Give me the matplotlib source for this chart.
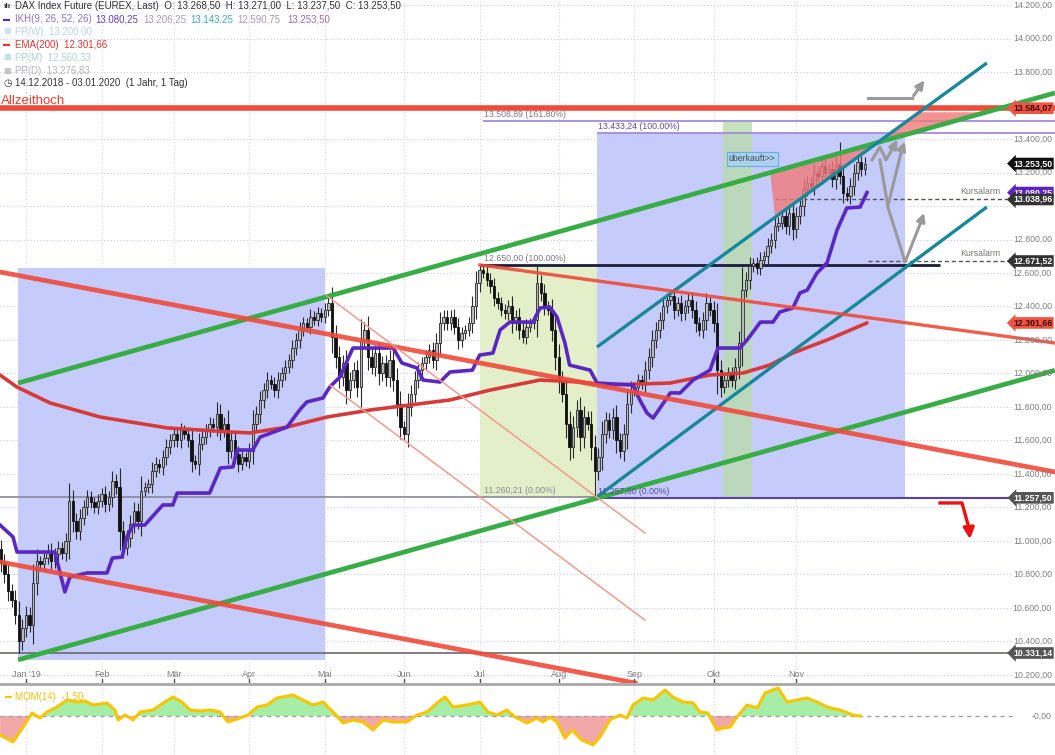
import matplotlib
matplotlib.use("Agg")
import matplotlib.pyplot as plt
import numpy as np
from matplotlib.patches import Rectangle, Polygon
from matplotlib.lines import Line2D

plt.rcParams['font.family'] = ['Liberation Sans', 'DejaVu Sans']

W, H = 1055, 755

# daily closes, trading day index -7 (mid Dec 2018) .. 233 (end Nov 2019)
first_day = -7
first_open = 10950
closes = [
    10870, 10800, 10700, 10650, 10560, 10400, 10480,
    10560, 10500, 10750, 10880, 10860, 10900, 10940, 10880, 10920, 10960,
    10930, 11000, 11240, 11120, 11060, 11140, 11200, 11260, 11230, 11200,
    11240, 11280, 11220, 11260, 11360, 11320, 11060, 10960, 11020, 11100,
    11180, 11120, 11300, 11320, 11340, 11420, 11460, 11440, 11500, 11560,
    11600, 11640, 11600, 11660, 11640, 11600, 11480, 11460, 11580, 11620,
    11660, 11700, 11680, 11760, 11660, 11700, 11540, 11600, 11520, 11460,
    11500, 11480, 11540, 11700, 11760, 11840, 11900, 11960, 11940, 11900,
    11960, 12000, 12040, 12080, 12150, 12200, 12260, 12300, 12280, 12340,
    12320, 12360, 12340, 12380, 12420, 12220, 12100, 11980, 12060, 11900,
    11960, 12020, 11920, 12200, 12260, 12100, 12040, 12120, 12000, 12060,
    11980, 12080, 11960, 11820, 11680, 11640, 11800, 11880, 11960, 12020,
    12060, 12100, 12140, 12080, 12180, 12300, 12340, 12300, 12340, 12280,
    12200, 12240, 12260, 12300, 12400, 12540, 12620, 12600, 12560, 12520,
    12450, 12420, 12380, 12360, 12400, 12300, 12340, 12260, 12220, 12280,
    12300, 12320, 12540, 12480, 12400, 12380, 12260, 12100, 11960, 11880,
    11700, 11560, 11680, 11780, 11620, 11740, 11700, 11560, 11420, 11500,
    11640, 11720, 11660, 11740, 11600, 11540, 11640, 11820, 11900, 11920,
    11960, 11940, 12020, 12100, 12200, 12260, 12320, 12400, 12440, 12460,
    12380, 12420, 12360, 12400, 12440, 12380, 12300, 12260, 12320, 12420,
    12380, 12300, 12020, 11920, 11960, 12000, 11960, 12040, 12180, 12500,
    12560, 12640, 12660, 12630, 12680, 12700, 12760, 12800, 12880, 12900,
    12940, 12880, 12960, 12860, 12940, 13000, 13100, 13140, 13120, 13200,
    13180, 13240, 13200, 13220, 13160, 13250, 13180, 13080, 13060, 13120,
    13200, 13260, 13220, 13253.5,
]
extra_lows = {-2: 10331.14, 158: 11257.5, 192: 11880}
extra_highs = {126: 12650.0, 84: 12460.0, 226: 13380.0, 53: 11830}

# Ichimoku line (step line), breakpoints
ikh_x = [-7.2, -3.6, -2.5, 8, 10.8, 12.2, 17, 22.5, 24, 26.7, 28, 29.7, 33, 38, 40.8,
         42, 51, 54, 57.5, 58.6, 63, 65, 72.5, 76, 78, 82.5, 84.4, 87.2, 90.8, 102,
         104.4, 108.6, 110.3, 115, 117.8, 124, 126, 129.7, 131.7, 134.4, 140.8, 142.8,
         145.5, 147.5, 149.7, 151, 156.7, 158.6, 168.6, 170.5, 172.5, 174.2, 179,
         181.7, 185.3, 190, 192.2, 198.3, 200.3, 204, 207.5, 209.4, 213, 215, 217,
         219.7, 222.5, 225.3, 228, 231.7, 233.6]
ikh_y = [11095, 11024, 10934, 10934, 10696, 10785, 10809, 10809, 10898, 10904, 11024,
         11095, 11095, 11215, 11215, 11286, 11286, 11436, 11442, 11543, 11543, 11620,
         11680, 11782, 11830, 11854, 11920, 11979, 12152, 12152, 12063, 12033, 11961,
         11949, 12009, 12020, 12110, 12122, 12260, 12307, 12307, 12391, 12397, 12337,
         12182, 12050, 12020, 11943, 11931, 11842, 11764, 11734, 11884, 11884, 11961,
         12020, 12152, 12152, 12200, 12307, 12307, 12367, 12391, 12481, 12498, 12600,
         12660, 12857, 12988, 12994, 13080.25]

ema_x = [-7.2, -2.5, 6.7, 20.6, 39.2, 56.7, 62.2, 72.5, 83.6, 95.6, 117.8, 128.9,
         142.8, 153.9, 161.4, 178.9, 190, 199.2, 206.7, 213, 222.5, 233.6]
ema_y = [11991, 11919, 11824, 11740, 11675, 11651, 11645, 11680, 11740, 11782, 11842,
         11901, 11961, 11949, 11931, 11943, 11991, 12003, 12051, 12122, 12200, 12301.66]

mom_x = [-7.2, -3.6, -0.8, 1.7, 3.9, 5.8, 8.6, 11.4, 14.2, 16.4, 18.6, 22.5, 24.7, 25.6,
         27.5, 29.7, 31.7, 35.3, 38.1, 40.8, 43.3, 45.6, 48.3, 51.1, 53.9, 56.1, 59.4,
         61.7, 64.2, 66.9, 69.7, 74.2, 76.9, 79.7, 82.5, 85.3, 88.1, 90.8, 93.6, 96.4,
         99.2, 101.9, 105.8, 108.6, 111.4, 114.2, 116.4, 118.6, 122.5, 126.1, 128.3,
         130.8, 133.6, 135.8, 139.2, 141.9, 143.6, 145.6, 147.5, 149.7, 151.7, 154.4,
         157.5, 159.4, 162.2, 165, 166.9, 168.6, 171.4, 174.2, 177.5, 179.7, 182.5,
         185.3, 187.2, 189.4, 191.9, 193.6, 195.6, 197.5, 200.3, 203.1, 205.3, 208.9,
         211.4, 214.2, 216.9, 219.7, 222.5, 226.1, 229.7, 231.7]
mom_y = [-570, -780, -330, 90, -60, 120, 270, 480, 420, 450, 330, 390, 180, -120, 30,
         -120, 120, 180, 390, 570, 420, 180, 150, 180, 120, -180, -60, 30, 270, 330,
         540, 630, 480, 330, 420, 120, -210, -120, -180, -420, -120, -180, -180, 30,
         120, 390, 570, 270, 330, 420, 120, 30, 180, -30, -210, -60, -180, -30, -180,
         -660, -420, -720, -870, -630, -120, 30, -60, 330, 540, 480, 780, 570, 420, 390,
         120, 90, -420, -360, -330, -30, 330, 240, 690, 840, 420, 480, 540, 420, 270,
         180, 30, 0]

month_pos = [0, 21, 41, 62, 83, 105, 126, 148, 169, 191, 214]
month_labels = ["Jan '19", "Feb", "Mär", "Apr", "Mai", "Jun", "Jul", "Aug", "Sep", "Okt", "Nov"]
price_ticks = list(range(10200, 14201, 200))
hidden_ticks = [13600, 13000]  # covered by price tags

tags = [  # price, background, text colour
    (13584.07, '#f2553f', '#3a0000'),
    (13253.50, '#111111', 'white'),
    (13080.25, '#5b22c8', 'white'),
    (13038.96, '#333333', 'white'),
    (12671.52, '#333333', 'white'),
    (12301.66, '#f2553f', '#3a0000'),
    (11257.50, '#555555', 'white'),
    (10331.14, '#555555', 'white'),
]


def de(v):
    return f"{v:,.2f}".replace(",", "_").replace(".", ",").replace("_", ".")


X0, X1 = -7.22, 285.83
Y0, Y1 = 10152, 14230
XR = 273.9  # where the price scale starts

fig = plt.figure(figsize=(W / 100, H / 100), dpi=100)
ax = fig.add_axes([0, 72 / H, 1, 683 / H])
ax.set_xlim(X0, X1)
ax.set_ylim(Y0, Y1)
ax.axis('off')

# grid
ax.hlines(price_ticks, X0, XR, colors='#c6c9e2', linestyles=(0, (1, 2)), lw=0.8, zorder=0)
ax.vlines(month_pos, Y0, Y1, colors='#d2d4e4', linestyles=(0, (1, 2)), lw=0.8, zorder=0)

# boxes
ax.add_patch(Rectangle((-2.2, 10290), 85.3, 12630 - 10290, fc='#c5cbfa', ec='none', zorder=1))
ax.add_patch(Rectangle((158.6, 11257.5), 85.6, 13433.24 - 11257.5, fc='#c5cbfa', ec='none', zorder=1))
ax.add_patch(Rectangle((126.1, 11260.21), 32.5, 12650 - 11260.21, fc='#e3efc9', ec='none', zorder=1))
ax.add_patch(Rectangle((193.6, 11257.5), 8.1, 13500 - 11257.5, fc='#b9dcae', ec='none', alpha=0.8, zorder=1.5))

# horizontal levels
ax.hlines(11260.21, X0, 158.6, color='#8a8a9a', lw=1.2, zorder=2)
ax.hlines(11257.5, 158.6, XR, color='#5a3fb0', lw=1.5, zorder=2)
ax.hlines(10331.14, X0, XR, color='#6a6a6a', lw=1.2, zorder=2)
ax.hlines(12650, 126.1, 253.9, color='#1c1c3c', lw=2, zorder=2)
ax.hlines(12671.52, 234, XR, color='#555555', lw=1, linestyles=(0, (3, 2)), zorder=2)
ax.hlines(13038.96, 208, XR, color='#555555', lw=1, linestyles=(0, (3, 2)), zorder=2)
ax.hlines(13508.89, 127, X1, color='#a48ae0', lw=1.3, zorder=2)
ax.hlines(13433.24, 158.6, X1, color='#a48ae0', lw=1.3, zorder=2)
ax.hlines(13584.07, X0, X1, color='#f04a3a', lw=4, zorder=2)

# candles
idx = np.arange(first_day, first_day + len(closes))
c = np.array(closes, dtype=float)
o = np.concatenate([[first_open], c[:-1]])
body = np.abs(c - o)
hi = np.maximum(o, c) + 0.35 * body + 25
lo = np.minimum(o, c) - 0.35 * body - 25
for k, v in extra_lows.items():
    lo[k - first_day] = v
for k, v in extra_highs.items():
    hi[k - first_day] = v
up = c >= o
ax.vlines(idx, lo, hi, color='#2a2a2a', lw=0.8, zorder=3)
ax.bar(idx[up], np.maximum(body[up], 6), bottom=o[up], width=0.62,
       color='#b9b9bd', edgecolor='#2a2a2a', lw=0.6, zorder=3.1)
ax.bar(idx[~up], np.maximum(body[~up], 6), bottom=c[~up], width=0.62,
       color='#111111', edgecolor='#111111', lw=0.6, zorder=3.1)

# indicators
ax.plot(ema_x, ema_y, color='#d83a3a', lw=2.6, zorder=4, solid_capstyle='round')
ax.plot(ikh_x, ikh_y, color='#5a26c4', lw=2.6, zorder=4.1, solid_joinstyle='round')

# trend lines
green_up = ((-2.2, 11943), (285.8, 13675))
green_lo = ((-2.2, 10290), (285.8, 12019))
teal_up = ((158.6, 12158), (266.9, 13854))
teal_lo = ((158.6, 11263), (266.9, 12994))


def line_y(ln, x):
    (xa, ya), (xb, yb) = ln
    return ya + (yb - ya) * (x - xa) / (xb - xa)


def cross(l1, l2):
    (xa, _), (xb, _) = l1
    s1 = (line_y(l1, xb) - line_y(l1, xa)) / (xb - xa)
    s2 = (line_y(l2, xb) - line_y(l2, xa)) / (xb - xa)
    x = xa + (line_y(l2, xa) - line_y(l1, xa)) / (s1 - s2)
    return x, line_y(l1, x)


def x_at(ln, y):
    (xa, ya), (xb, yb) = ln
    return xa + (y - ya) * (xb - xa) / (yb - ya)


# red wedges
apex = cross(green_up, teal_up)
w1 = [(206.7, line_y(green_up, 206.7)), (208.1, line_y(teal_up, 208.1)), apex]
ax.add_patch(Polygon(w1, closed=True, fc='#f07a7a', ec='none', alpha=0.8, zorder=4.5))
top = 13560
w2 = [apex, (x_at(teal_up, top), top), (x_at(green_up, top), top)]
ax.add_patch(Polygon(w2, closed=True, fc='#f07a7a', ec='none', alpha=0.8, zorder=4.5))

for ln, col, lw in [(green_up, '#39ad45', 3.4), (green_lo, '#39ad45', 3.4),
                    (teal_up, '#17889a', 2.4), (teal_lo, '#17889a', 2.4)]:
    ax.plot(*zip(*ln), color=col, lw=lw, zorder=5, solid_capstyle='butt')

ax.plot([-7.2, 285.8], [12606, 11412], color='#f04a3a', lw=3.4, alpha=0.9, zorder=5)
ax.plot([126.1, 285.8], [12648, 12182], color='#f04a3a', lw=2.4, alpha=0.9, zorder=5)
ax.plot([-7.2, 169.2], [10875, 10152], color='#f04a3a', lw=3.4, alpha=0.9, zorder=5)
ax.plot([83.6, 171.9], [12463, 11048], color='#f49a8a', lw=1.1, zorder=5)
ax.plot([84.4, 171.9], [11931, 10528], color='#f49a8a', lw=1.1, zorder=5)

# scenario arrows (grey)
grey = '#9a9a9a'
arrow_kw = dict(arrowstyle='-|>', color=grey, lw=2.2, mutation_scale=12)
ax.plot([234, 246.1], [13645, 13645], color=grey, lw=2.2, zorder=6)
ax.annotate('', xy=(250, 13764), xytext=(246.1, 13645), arrowprops=arrow_kw, zorder=6)
ax.plot([235, 237.2, 238.9, 241.1], [13275, 13352, 13275, 13358], color=grey, lw=2.2, zorder=6)
ax.annotate('', xy=(242.4, 13410), xytext=(241.1, 13358), arrowprops=arrow_kw, zorder=6)
ax.plot([237.2, 239.4, 243.2], [13275, 13000, 13330], color=grey, lw=2.2, zorder=6)
ax.annotate('', xy=(244.4, 13400), xytext=(243.2, 13330), arrowprops=arrow_kw, zorder=6)
ax.plot([239.4, 244.2, 248.5], [12994, 12666, 12900], color=grey, lw=2.2, zorder=6)
ax.annotate('', xy=(249.7, 12975), xytext=(248.5, 12900), arrowprops=arrow_kw, zorder=6)

# red arrow
ax.plot([253.9, 260, 261.9], [11227, 11227, 11080], color='#ee1111', lw=2.4, zorder=6)
ax.annotate('', xy=(262.3, 10995), xytext=(261.9, 11080),
            arrowprops=dict(arrowstyle='-|>', color='#ee1111', lw=2.4, mutation_scale=16), zorder=6)

# level texts
small = dict(fontsize=6.3, zorder=7)
ax.text(127.3, 13508.89 + 12, '13.508,89 (161.80%)', color='#7a7a8a', va='bottom', **small)
ax.text(158.9, 13433.24 + 12, '13.433,24 (100.00%)', color='#5a4aa8', va='bottom', **small)
ax.text(127.3, 12650 + 12, '12.650,00 (100.00%)', color='#7a7a8a', va='bottom', **small)
ax.text(127.3, 11260.21 + 12, '11.260,21 (0.00%)', color='#8a8a9a', va='bottom', **small)
ax.text(158.9, 11257.5 + 12, '11.257,50 (0.00%)', color='#5a4aa8', va='bottom', **small)
ax.text(270.6, 13038.96 + 20, 'Kursalarm', color='#777777', ha='right', va='bottom', **small)
ax.text(270.6, 12671.52 + 20, 'Kursalarm', color='#777777', ha='right', va='bottom', **small)
ax.text(195.2, 13281, 'überkauft>>', color='#404a5a', fontsize=6.3, va='center', zorder=7,
        bbox=dict(boxstyle='square,pad=0.25', fc='#a9d3f2', ec='#5aa8e8', lw=0.8, alpha=0.85))

# price scale
ytr = ax.get_yaxis_transform()
for p in price_ticks:
    if p in hidden_ticks:
        continue
    ax.text(0.997, p, de(p), transform=ytr, ha='right', va='center', fontsize=6.3,
            color='#808080', zorder=8)
for p, bg, tc in tags:
    ax.text(0.9975, p, de(p), transform=ytr, ha='right', va='center', fontsize=6.3,
            color=tc, fontweight='bold', zorder=9,
            bbox=dict(boxstyle='larrow,pad=0.15', fc=bg, ec='none'))

# month labels
xtr = ax.get_xaxis_transform()
for p, lab in zip(month_pos, month_labels):
    ax.text(p, 0.013, lab, transform=xtr, ha='center', va='center', fontsize=6.5,
            color='#808080', zorder=8)
    ax.plot([p, p], [0, 0.006], transform=xtr, color='#555555', lw=1, zorder=8)

fig.add_artist(Line2D([0, 1], [1 - 684 / H] * 2, color='#a8a8a8', lw=2))

# momentum panel
ax2 = fig.add_axes([0, 0, 1, 70 / H])
ax2.set_xlim(X0, X1)
ax2.set_ylim(-1170, 930)
ax2.axis('off')
ax2.vlines(month_pos, -1170, 930, colors='#d2d4e4', linestyles=(0, (1, 2)), lw=0.8, zorder=0)
mx = np.array(mom_x)
my = np.array(mom_y, dtype=float)
ax2.fill_between(mx, my, 0, where=my >= 0, interpolate=True, color='#a6eea6', lw=0, zorder=1)
ax2.fill_between(mx, my, 0, where=my <= 0, interpolate=True, color='#f2a8a8', lw=0, zorder=1)
ax2.hlines(0, X0, XR, colors='#a0a0a0', linestyles=(0, (3, 3)), lw=1, zorder=2)
ax2.plot(mx, my, color='#f7c600', lw=2.2, zorder=3)
ax2.text(0.997, 0, '-0,00', transform=ax2.get_yaxis_transform(), ha='right', va='center',
         fontsize=6.3, color='#808080')


# legend (figure pixel coords)
def ftext(x, y, s, **kw):
    fig.text(x / W, 1 - y / H, s, va='center', **kw)


lf = dict(fontsize=7)
ftext(3, 6, 'ılı', color='#333333', fontsize=6, fontweight='bold')
ftext(15, 6, 'DAX Index Future (EUREX, Last)  O: 13.268,50  H: 13.271,00  L: 13.237,50  C: 13.253,50',
      color='#333333', **lf)
ftext(3, 19.5, '▬', color='#5a26c4', fontsize=5)
ftext(15, 19.5, 'IKH(9, 26, 52, 26)', color='#8c6ed8', **lf)
ftext(95, 19.5, '13.080,25', color='#6a3ad0', **lf)
ftext(143, 19.5, '13.206,25', color='#a898b8', **lf)
ftext(190, 19.5, '13.143,25', color='#38a8d8', **lf)
ftext(237, 19.5, '12.590,75', color='#a898b8', **lf)
ftext(287, 19.5, '13.253,50', color='#a868a8', **lf)
ftext(3, 32, '▦', color='#b8d8f0', fontsize=6)
ftext(15, 32, 'PP(W)  13.200,00', color='#b8d4ee', **lf)
ftext(3, 45, '▬', color='#e83030', fontsize=5)
ftext(15, 45, 'EMA(200)  12.301,66', color='#e83030', **lf)
ftext(3, 58, '▦', color='#a8d8d8', fontsize=6)
ftext(15, 58, 'PP(M)  12.560,33', color='#a8d4d4', **lf)
ftext(3, 71, '▦', color='#b0b0b0', fontsize=6)
ftext(15, 71, 'PP(D)  13.276,83', color='#b4b4b4', **lf)
ftext(3, 83, '◷', color='#333333', fontsize=7)
ftext(15, 83, '14.12.2018 - 03.01.2020  (1 Jahr, 1 Tag)', color='#333333', **lf)
ftext(1, 101, 'Allzeithoch', color='#f03a2a', fontsize=9.5)
ftext(5, 697, '▬', color='#f7c600', fontsize=5)
ftext(15, 697, 'MOM(14)  -1,50', color='#f7c000', **lf)

fig.savefig('out.png', dpi=100)
